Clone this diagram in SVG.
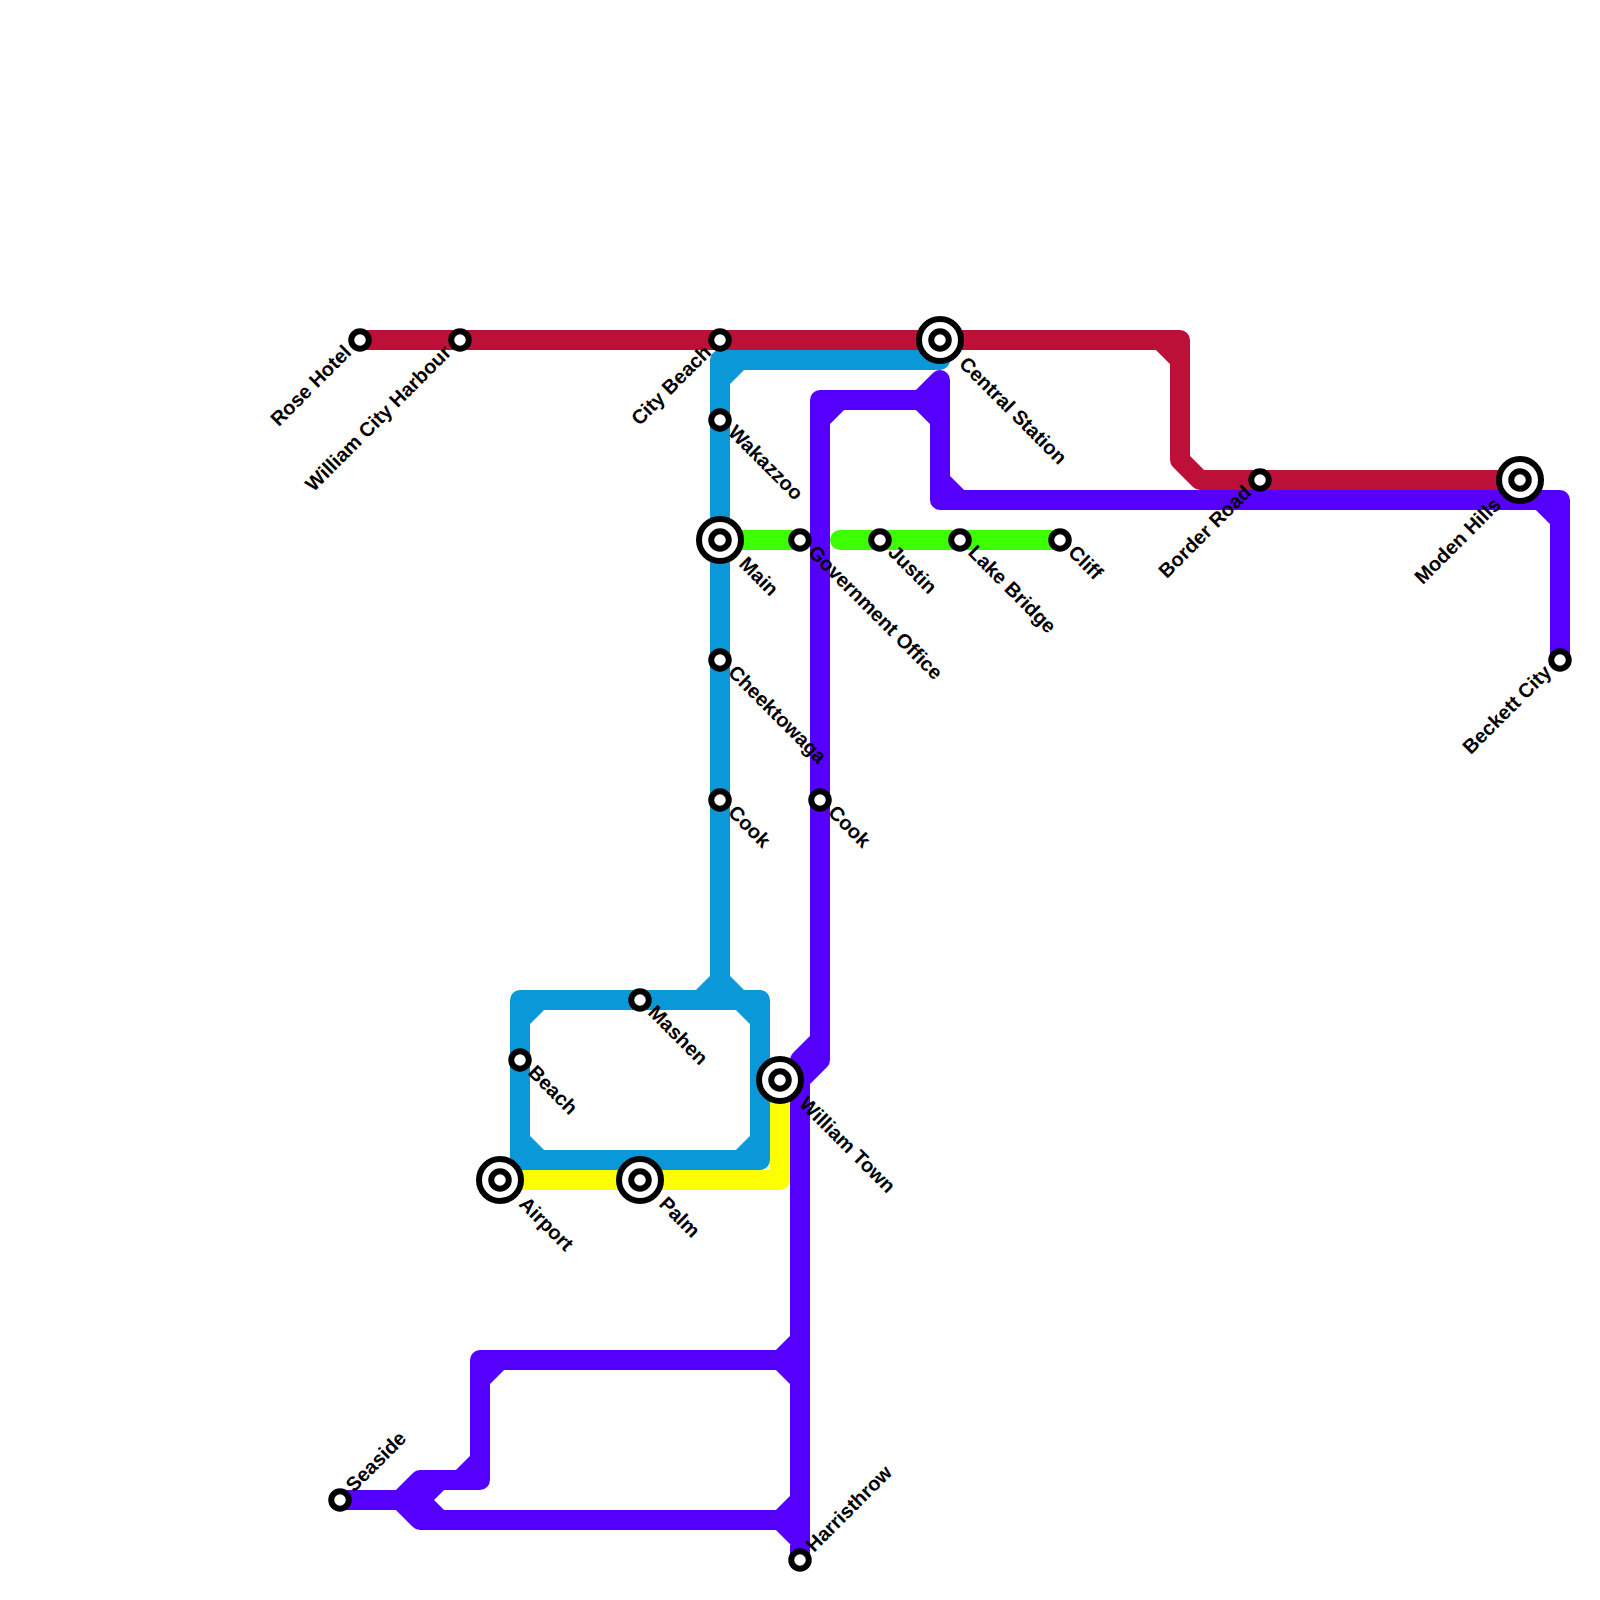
<svg xmlns="http://www.w3.org/2000/svg" width="1600" height="1600" viewBox="0 0 1600 1600">
<style>
.l{fill:none;stroke-width:20;stroke-linecap:round;stroke-linejoin:round}
.red{stroke:#bd1038}.blue{stroke:#0a98d8}.purple{stroke:#5500ff}.green{stroke:#3cff00}.yellow{stroke:#fbff00}
.s{fill:#fff;stroke:#000;stroke-width:6}
.o{fill:#fff;stroke:#000;stroke-width:6}
text{font-family:"Liberation Sans",Arial,sans-serif;font-weight:700;font-size:20px;fill:#000}
.e{text-anchor:end}
</style>
<rect width="1600" height="1600" fill="#fff"/>
<g id="connectors">
<path class="l yellow" d="M500 1180H780V1080"/>
<path class="l red" d="M360 340H1180V460L1200 480H1520M1160 340L1180 360"/>
<path class="l blue" d="M940 360H720V1000M720 380L740 360M700 1000L720 980L740 1000M520 1000H760V1160H520ZM520 1020L540 1000M740 1000L760 1020M760 1140L740 1160M540 1160L520 1140"/>
<path class="l green" d="M720 540H800M840 540H1060"/>
<path class="l purple" d="M800 1560V1080L820 1060V400H940M820 420L840 400M800 1060L820 1040M920 400L940 380V500H1560V660M920 400L940 420M940 480L960 500M1540 500L1560 520M800 1340L780 1360H480V1480H420L400 1500L420 1520H800M780 1360L800 1380M480 1380L500 1360M460 1480L480 1460M340 1500H420M440 1480L420 1500L440 1520M780 1520L800 1500M780 1520L800 1540"/>
</g>
<g id="st-rose-hotel"><circle class="s" cx="360" cy="340" r="8.75"/><text class="e" transform="translate(352.5 353.5) rotate(-45)">Rose Hotel</text></g>
<g id="st-william-city-harbour"><circle class="s" cx="460" cy="340" r="8.75"/><text class="e" transform="translate(452.5 353.5) rotate(-45)">William City Harbour</text></g>
<g id="st-city-beach"><circle class="s" cx="720" cy="340" r="8.75"/><text class="e" transform="translate(712.5 353.5) rotate(-45)">City Beach</text></g>
<g id="st-central-station"><circle class="o" cx="940" cy="340" r="21"/><circle class="s" cx="940" cy="340" r="8.75"/><text transform="translate(958 365) rotate(45)">Central Station</text></g>
<g id="st-wakazzoo"><circle class="s" cx="720" cy="420" r="8.75"/><text transform="translate(727 433.5) rotate(45)">Wakazzoo</text></g>
<g id="st-main"><circle class="o" cx="720" cy="540" r="21"/><circle class="s" cx="720" cy="540" r="8.75"/><text transform="translate(738 565) rotate(45)">Main</text></g>
<g id="st-government-office"><circle class="s" cx="800" cy="540" r="8.75"/><text transform="translate(807 553.5) rotate(45)">Government Office</text></g>
<g id="st-justin"><circle class="s" cx="880" cy="540" r="8.75"/><text transform="translate(887 553.5) rotate(45)">Justin</text></g>
<g id="st-lake-bridge"><circle class="s" cx="960" cy="540" r="8.75"/><text transform="translate(967 553.5) rotate(45)">Lake Bridge</text></g>
<g id="st-cliff"><circle class="s" cx="1060" cy="540" r="8.75"/><text transform="translate(1067 553.5) rotate(45)">Cliff</text></g>
<g id="st-cheektowaga"><circle class="s" cx="720" cy="660" r="8.75"/><text transform="translate(727 673.5) rotate(45)">Cheektowaga</text></g>
<g id="st-cook-blue"><circle class="s" cx="720" cy="800" r="8.75"/><text transform="translate(727 813.5) rotate(45)">Cook</text></g>
<g id="st-cook-purple"><circle class="s" cx="820" cy="800" r="8.75"/><text transform="translate(827 813.5) rotate(45)">Cook</text></g>
<g id="st-mashen"><circle class="s" cx="640" cy="1000" r="8.75"/><text transform="translate(647 1013.5) rotate(45)">Mashen</text></g>
<g id="st-beach"><circle class="s" cx="520" cy="1060" r="8.75"/><text transform="translate(527 1073.5) rotate(45)">Beach</text></g>
<g id="st-william-town"><circle class="o" cx="780" cy="1080" r="21"/><circle class="s" cx="780" cy="1080" r="8.75"/><text transform="translate(798 1105) rotate(45)">William Town</text></g>
<g id="st-airport"><circle class="o" cx="500" cy="1180" r="21"/><circle class="s" cx="500" cy="1180" r="8.75"/><text transform="translate(518 1205) rotate(45)">Airport</text></g>
<g id="st-palm"><circle class="o" cx="640" cy="1180" r="21"/><circle class="s" cx="640" cy="1180" r="8.75"/><text transform="translate(658 1205) rotate(45)">Palm</text></g>
<g id="st-seaside"><circle class="s" cx="340" cy="1500" r="8.75"/><text transform="translate(354 1493) rotate(-45)">Seaside</text></g>
<g id="st-harristhrow"><circle class="s" cx="800" cy="1560" r="8.75"/><text transform="translate(814 1553) rotate(-45)">Harristhrow</text></g>
<g id="st-border-road"><circle class="s" cx="1260" cy="480" r="8.75"/><text class="e" transform="translate(1252.5 493.5) rotate(-45)">Border Road</text></g>
<g id="st-moden-hills"><circle class="o" cx="1520" cy="480" r="21"/><circle class="s" cx="1520" cy="480" r="8.75"/><text class="e" transform="translate(1502 506) rotate(-45)">Moden Hills</text></g>
<g id="st-beckett-city"><circle class="s" cx="1560" cy="660" r="8.75"/><text class="e" transform="translate(1552.5 673.5) rotate(-45)">Beckett City</text></g>
</svg>
